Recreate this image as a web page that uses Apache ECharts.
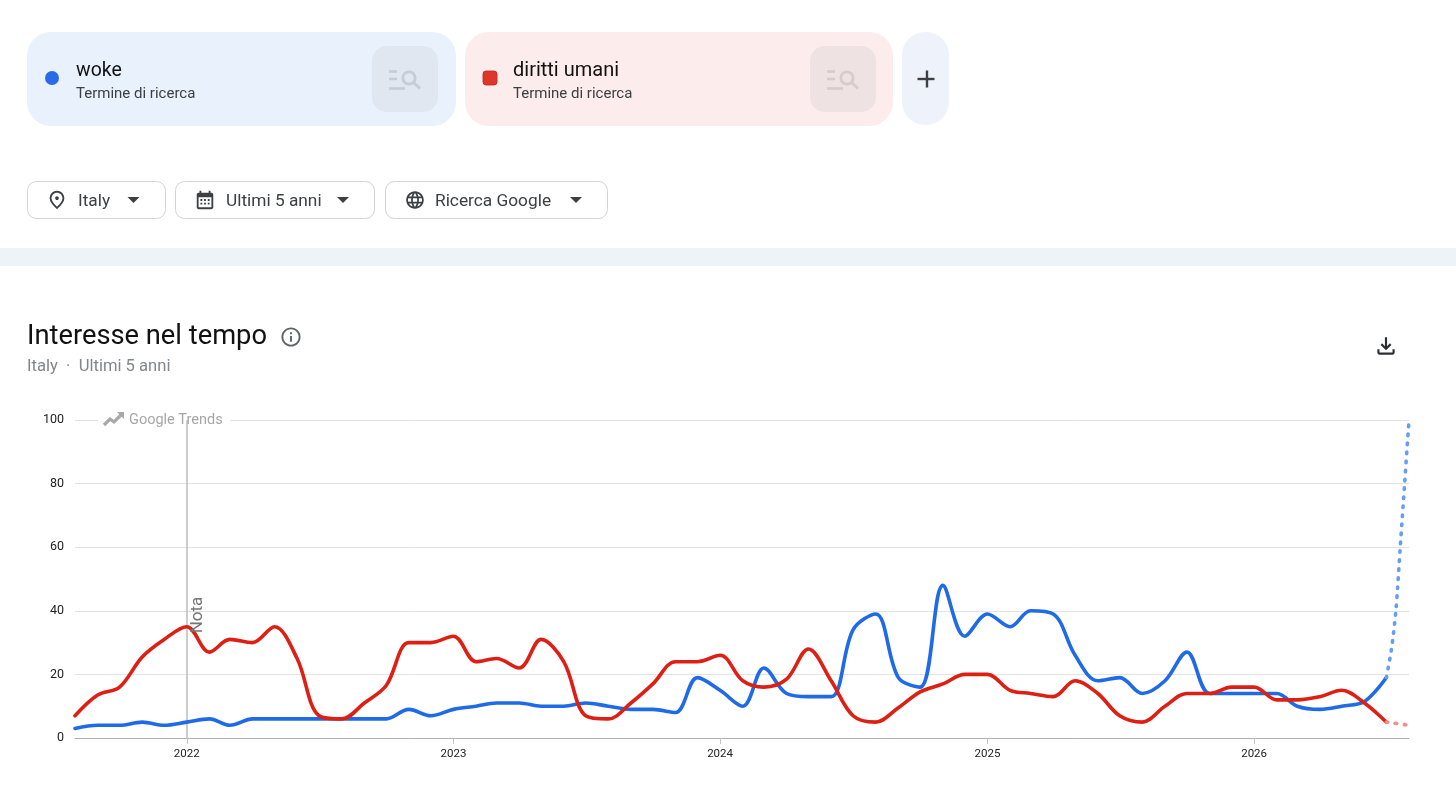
<!DOCTYPE html>
<html><head><meta charset="utf-8">
<style>html,body{margin:0;padding:0;background:#fff}#c{width:1456px;height:796px}</style>
<script src="https://cdn.jsdelivr.net/npm/echarts@6/dist/echarts.min.js"></script>
</head><body><div id="c"></div>
<script>
const startYear = 2021, startMonth = 8;
const wokeValues = [3,4,4,5,4,5,6,4,6,6,6,6,6,6,6,9,7,9,10,11,11,10,10,11,10,9,9,8,19,15,10,22,14,13,13,34,39,19,16,48,32,39,35,40,39,26,18,19,14,18,27,14,14,14,14,10,9,10,11.5,19];
const dirittiValues = [7,13.5,16,25.5,31,35,27,31,30,35,25,7,6,11,16.5,30,30,32,24,25,22,31,24,7,6,11,17,24,24,26,18,16,18.5,28,18,7,5,9.5,14.5,17,20,20,15,14,13,18,14,7,5,10,14,14,16,16,12,12,13,15,11,5];
const partialDates = ['2026-07-01','2026-07-08','2026-07-14','2026-07-20','2026-07-26','2026-08-01'];
const wokePartial = [19,28,40,60,80,100];
const dirittiPartialDates = ['2026-07-01','2026-08-01'];
const dirittiPartial = [5,4];
const yearTicks = ['2022','2023','2024','2025','2026'];
const axisMin = '2021-08-01', axisMax = '2026-08-01', noteDate = '2022-01-01';
const pad = n => String(n).padStart(2,'0');
const ts = s => Date.parse(s+'T00:00:00Z');
const dates = wokeValues.map((_,i)=>{const m=startMonth-1+i;return ts((startYear+Math.floor(m/12))+'-'+pad(m%12+1)+'-01');});
const solid = arr => arr.map((v,i)=>[dates[i],v]);
const pairs = (ds,vs) => ds.map((d,i)=>[ts(d),vs[i]]);
const yearValues = yearTicks.map(y=>ts(y+'-01-01'));

const F='Roboto, "Noto Sans", sans-serif';
const g=[];
const rect=(x,y,w,h,r,fill,stroke)=>g.push({type:'rect',shape:{x,y,width:w,height:h,r},style:{fill,stroke:stroke||null,lineWidth:stroke?1:0},z:1});
const text=(x,y,t,size,fill,weight,z)=>g.push({type:'text',x,y,style:{text:t,fontSize:size,fill,fontFamily:F,fontWeight:weight||400,verticalAlign:'middle'},z:z||3});
let iconCount=0;
const icon=(d,cx,cy,s,fill)=>{
  const nm='uiIcon'+(iconCount++);
  echarts.graphic.registerShape(nm,echarts.graphic.extendPath(d,{}));
  const k=s/24;
  g.push({type:nm,x:cx-s/2,y:cy-s/2,scaleX:k,scaleY:k,style:{fill},z:3});
};
const caret=(cx,cy)=>g.push({type:'polygon',shape:{points:[[cx-6,cy-3],[cx+6,cy-3],[cx,cy+3]]},style:{fill:'#3c4043'},z:3});
const searchIcon=(ox,col)=>{
  [[71.5,8],[79,8],[88.5,16]].forEach(([y,w])=>{rect(ox,y-1.3,w,2.6,0,col);g[g.length-1].z=3;});
  g.push({type:'circle',shape:{cx:ox+20,cy:78,r:6.2},style:{fill:null,stroke:col,lineWidth:2.8},z:3});
  g.push({type:'line',shape:{x1:ox+24.5,y1:82.5,x2:ox+31,y2:88.5},style:{stroke:col,lineWidth:3},z:3});
};
// term chips
rect(27,32,429,94,24,'#e9f1fd');
rect(372,46,66,66,15,'#e1e7f0');g[g.length-1].z=2;
g.push({type:'circle',shape:{cx:52,cy:78,r:7},style:{fill:'#2a6ae8'},z:3});
text(76,71,'woke',19.5,'#111');
text(76,94,'Termine di ricerca',15,'#3c4043');
searchIcon(389,'#c6cbd4');
rect(465,32,428,94,24,'#fcecec');
rect(810,46,66,66,15,'#efe2e2');g[g.length-1].z=2;
g.push({type:'rect',shape:{x:483,y:71,width:14,height:14,r:3},style:{fill:'#dd372c',stroke:'#c5221f',lineWidth:0.8},z:3});
text(513,71,'diritti umani',20,'#111');
text(513,94,'Termine di ricerca',15,'#3c4043');
searchIcon(827,'#d6cccc');
rect(902,32,47,93,23,'#eef2fa');
rect(917.5,77.8,17,2.4,0,'#3c4043');g[g.length-1].z=3;
rect(925.8,70.5,2.4,17,0,'#3c4043');g[g.length-1].z=3;
// filters
rect(27.5,181.5,138,37,9,'#fff','#d4d4d4');
rect(175.5,181.5,199,37,9,'#fff','#d4d4d4');
rect(385.5,181.5,222,37,9,'#fff','#d4d4d4');
icon('M12 12c-1.1 0-2-.9-2-2s.9-2 2-2 2 .9 2 2-.9 2-2 2zm6-1.8C18 6.57 15.35 4 12 4s-6 2.57-6 6.2c0 2.34 1.95 5.44 6 9.14 4.05-3.7 6-6.8 6-9.14zM12 2c4.2 0 8 3.22 8 8.2 0 3.32-2.67 7.25-8 11.8-5.33-4.55-8-8.48-8-11.8C4 5.22 7.8 2 12 2z',57,200,22,'#3c4043');
icon('M9 11H7v2h2v-2zm4 0h-2v2h2v-2zm4 0h-2v2h2v-2zm0 4h-2v2h2v-2zm-4 0h-2v2h2v-2zm-4 0H7v2h2v-2zm10-11h-1V2h-2v2H8V2H6v2H5c-1.11 0-1.99.9-1.99 2L3 20c0 1.1.89 2 2 2h14c1.1 0 2-.9 2-2V6c0-1.1-.9-2-2-2zm0 16H5V9h14v11z',205,200,22,'#3c4043');
icon('M11.99 2C6.47 2 2 6.48 2 12s4.47 10 9.99 10C17.52 22 22 17.52 22 12S17.52 2 11.99 2zm6.93 6h-2.95c-.32-1.25-.78-2.45-1.38-3.56 1.84.63 3.37 1.91 4.33 3.56zM12 4.04c.83 1.2 1.48 2.53 1.91 3.96h-3.82c.43-1.43 1.08-2.76 1.91-3.96zM4.26 14C4.1 13.36 4 12.69 4 12s.1-1.36.26-2h3.38c-.08.66-.14 1.32-.14 2s.06 1.34.14 2H4.26zm.82 2h2.95c.32 1.25.78 2.45 1.38 3.56-1.84-.63-3.37-1.9-4.33-3.56zm2.95-8H5.08c.96-1.66 2.49-2.93 4.33-3.56C8.81 5.55 8.35 6.75 8.03 8zM12 19.96c-.83-1.2-1.48-2.53-1.91-3.96h3.82c-.43 1.43-1.08 2.76-1.91 3.96zM14.34 14H9.66c-.09-.66-.16-1.32-.16-2s.07-1.35.16-2h4.68c.09.65.16 1.32.16 2s-.07 1.34-.16 2zm.25 5.56c.6-1.11 1.06-2.31 1.38-3.56h2.95c-.96 1.65-2.49 2.93-4.33 3.56zM16.36 14c.08-.66.14-1.32.14-2s-.06-1.34-.14-2h3.38c.16.64.26 1.31.26 2s-.1 1.36-.26 2h-3.38z',415,200,21,'#3c4043');
text(78,202,'Italy',17.3,'#3c4043');
text(226,202,'Ultimi 5 anni',17.3,'#3c4043');
text(435,202,'Ricerca Google',17.3,'#3c4043');
caret(133.5,200);caret(343,200);caret(576,200);
// band
rect(0,248,1456,18,0,'#eef2f9');
// heading
text(27,337,'Interesse nel tempo',27.3,'#111');
icon('M11 7h2v2h-2zm0 4h2v6h-2zm1-9C6.48 2 2 6.48 2 12s4.48 10 10 10 10-4.48 10-10S17.52 2 12 2zm0 18c-4.41 0-8-3.59-8-8s3.59-8 8-8 8 3.59 8 8-3.59 8-8 8z',291,337,23,'#5f6368');
text(27,367,'Italy  ·  Ultimi 5 anni',16.6,'#80868b');
icon('M12 16l-5-5 1.4-1.45 2.6 2.6V4h2v8.15l2.6-2.6L17 11l-5 5zM6 20c-.55 0-1.02-.2-1.41-.59C4.2 19.02 4 18.55 4 18v-3h2v3h12v-3h2v3c0 .55-.2 1.02-.59 1.41-.39.39-.86.59-1.41.59H6z',1386,346,26,'#2b2f33');
// watermark
g.push({type:'rect',shape:{x:98,y:411,width:132,height:17},style:{fill:'#fff'},z:1});
g.push({type:'polyline',shape:{points:[[104,425],[110,419],[114,422],[121,415]]},style:{stroke:'#a8a8a8',lineWidth:3.2,fill:null},z:6});
g.push({type:'polygon',shape:{points:[[117,412],[124,412],[124,419]]},style:{fill:'#a8a8a8'},z:6});
text(129,420,'Google Trends',14.5,'#a6a6a6',400,6);
// note label beside the annotation line
g.push({type:'text',x:197.5,y:615,rotation:Math.PI/2,style:{text:'Nota',fontSize:17,fill:'#757575',fontFamily:F,align:'center',verticalAlign:'middle'},z:6});

const chart=echarts.init(document.getElementById('c'),null,{renderer:'canvas'});
const line=(name,data,color,z,extra)=>Object.assign({name,type:'line',data,showSymbol:false,symbol:'none',smooth:0.35,z,
  lineStyle:{color,width:3.6,cap:'round',join:'round'},itemStyle:{color},animation:false},extra||{});
const dotted=(data,color,z)=>({name:'parziale',type:'line',data,symbol:'none',z,animation:false,smooth:0.3,
  lineStyle:{color,width:3.6,type:[1.5,7.5],cap:'round'},itemStyle:{color}});
chart.setOption({
  animation:false,backgroundColor:'#fff',
  grid:{left:75,right:47,top:420,bottom:58},
  xAxis:{type:'value',min:ts(axisMin),max:ts(axisMax),
    axisLine:{lineStyle:{color:'#b0b0b0',width:1}},
    axisTick:{show:true,length:6,lineStyle:{color:'#c4c4c4'},customValues:yearValues},
    axisLabel:{customValues:yearValues,formatter:v=>String(new Date(v).getUTCFullYear()),color:'#222',fontSize:11.5,fontFamily:F,margin:10},
    splitLine:{show:false}},
  yAxis:{type:'value',min:0,max:100,interval:20,
    axisLine:{show:false},axisTick:{show:false},
    axisLabel:{color:'#222',fontSize:12.5,fontFamily:F,margin:11,padding:[2,0,0,0]},
    splitLine:{lineStyle:{color:'#e3e3e3',width:1}}},
  series:[
    line('woke',solid(wokeValues),'#1f6ae6',3,{markLine:{silent:true,symbol:'none',animation:false,z:2,
      lineStyle:{color:'#bdbdbd',width:1.5,type:'solid'},label:{show:false},
      data:[{xAxis:ts(noteDate)}]}}),
    line('diritti umani',solid(dirittiValues),'#dd1f14',4),
    dotted(pairs(partialDates,wokePartial),'#669df6',3),
    dotted(pairs(dirittiPartialDates,dirittiPartial),'#f88a8a',4)
  ],
  graphic:{elements:g}
});
</script></body></html>
